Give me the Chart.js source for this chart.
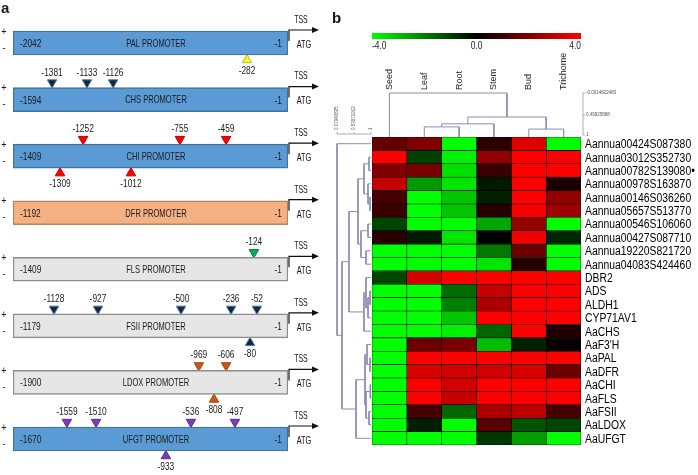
<!DOCTYPE html>
<html>
<head>
<meta charset="utf-8">
<script src="https://cdn.jsdelivr.net/npm/chart.js@4.4.0/dist/chart.umd.min.js"></script>
<style>
  html, body { margin: 0; padding: 0; background: #fff; }
  #wrap { position: relative; width: 698px; height: 475px; overflow: hidden; }
  canvas { position: absolute; top: 0; }
</style>
</head>
<body>
<div id="wrap">
  <canvas id="promoters" style="left:0" width="325" height="475"></canvas>
  <canvas id="heat" style="left:325px" width="373" height="475"></canvas>
  <canvas id="coltree" style="left:325px" width="373" height="140"></canvas>
  <canvas id="rowtree" style="left:325px" width="60" height="475"></canvas>
</div>
<script>
// ---- panel a: promoters ----
const promoters = ['PAL', 'CHS', 'CHI', 'DFR', 'FLS', 'FSII', 'LDOX', 'UFGT'];
const promoterStart = [-2042, -1594, -1409, -1192, -1409, -1179, -1900, -1670];

// cis elements: promoter, position label, strand, drawn place along the box (0..1, diagram not to scale)
const siteGene   = ['PAL', 'CHS', 'CHS', 'CHS', 'CHI', 'CHI', 'CHI', 'CHI', 'CHI', 'FLS',
                    'FSII', 'FSII', 'FSII', 'FSII', 'FSII', 'FSII', 'LDOX', 'LDOX', 'LDOX',
                    'UFGT', 'UFGT', 'UFGT', 'UFGT', 'UFGT'];
const sitePos    = [-282, -1381, -1133, -1126, -1252, -755, -459, -1309, -1012, -124,
                    -1128, -927, -500, -236, -52, -80, -969, -606, -808,
                    -1559, -1510, -536, -497, -933];
const siteStrand = ['-', '+', '+', '+', '+', '+', '+', '-', '-', '+',
                    '+', '+', '+', '+', '+', '-', '+', '+', '-',
                    '+', '+', '+', '+', '-'];
const siteDrawn  = [0.851, 0.142, 0.269, 0.364, 0.255, 0.607, 0.775, 0.171, 0.429, 0.876,
                    0.149, 0.309, 0.611, 0.793, 0.887, 0.862, 0.676, 0.775, 0.731,
                    0.196, 0.302, 0.647, 0.807, 0.556];

// ---- panel b: heatmap ----
const tissues = ['Seed', 'Leaf', 'Root', 'Stem', 'Bud', 'Trichome'];
const genes = ['Aannua00424S087380', 'Aannua03012S352730', 'Aannua00782S139080\u2022', 'Aannua00978S163870',
  'Aannua00146S036260', 'Aannua05657S513770', 'Aannua00546S106060', 'Aannua00427S087710',
  'Aannua19220S821720', 'Aannua04083S424460', 'DBR2', 'ADS', 'ALDH1', 'CYP71AV1', 'AaCHS',
  "AaF3'H", 'AaPAL', 'AaDFR', 'AaCHI', 'AaFLS', 'AaFSII', 'AaLDOX', 'AaUFGT'];
const seed     = [1.6, 4, 2.0, 3.1, 1.1, 0.9, -1.1, 0.6, -4, -4, -1.1, -4, -4, -4, -4, -4, -4, -4, -4, -4, -4, -4, -4];
const leaf     = [2.0, -1.0, 1.9, -2.4, -4, -4, -4, -0.4, -4, -4, 3.3, -4, -4, -4, -4, 1.7, 4, 3.4, 4, 4, 1.1, -0.5, -4];
const root     = [-4, -3.8, -3.5, -3.6, -3.1, -3.1, -4, -3.6, -4, -4, 4, -1.7, -2.0, -3.1, -3.8, 1.9, 4, 3.3, 3.3, 3.1, -1.6, -4, -4];
const stem     = [0.7, 2.3, 0.9, -0.4, -0.5, 0.6, -2.6, 0, -1.9, -3.6, 4, 3.1, 2.7, 4, -1.6, -3.0, 4, 3.3, 4, 4, 2.7, 1.4, -0.9];
const bud      = [3.5, 4, 4, 4, 4, 3.9, 2.3, 3.8, 1.7, 0.6, 4, 4, 4, 4, 4, -0.5, 4, 3.4, 4, 4, 3.0, -1.3, -2.5];
const trichome = [-4, 4, 4, 0.4, 2.3, 2.5, -4, -0.6, -4, -4, 4, 4, 4, 4, 0.5, 0.1, 4, 1.7, 4, 4, 1.1, -1.1, -4];
const colorTicks = [-4, 0, 4];

// dendrograms: merge (a, b) at distance; new nodes numbered after the leaves
const colMergeA = [1, 6, 4, 7, 0];
const colMergeB = [2, 3, 5, 8, 9];
const colMergeDist = [0.77, 0.70, 0.82, 0.545, -0.0015];
const colScaleTicks = [-0.0014822483, 0.49925888, 1.0];

const rowMergeA = [4, 3, 1, 25, 6, 8, 27, 26, 11, 31, 10, 33, 30, 16, 15, 18, 20, 38, 37, 41, 35, 0];
const rowMergeB = [5, 23, 2, 24, 7, 9, 28, 29, 12, 13, 32, 14, 34, 17, 36, 19, 21, 39, 40, 22, 42, 43];
const rowMergeDist = [0.973, 0.919, 0.946, 0.81, 0.919, 0.865, 0.729, 0.648, 0.973, 0.919, 0.865, 0.81,
                      0.404, 0.973, 0.892, 0.98, 0.946, 0.865, 0.838, 0.594, 0.215, 0.07943825];
const rowScaleTicks = [0.07943825, 0.53971912, 1.0];

// ---- styles ----
const FONT = "'Liberation Sans', Arial, sans-serif";
Chart.defaults.font.family = FONT;
const boxFill = { PAL: '#5B9BD5', CHS: '#5B9BD5', CHI: '#5B9BD5', UFGT: '#5B9BD5', DFR: '#F4B183', FLS: '#E7E6E6', FSII: '#E7E6E6', LDOX: '#E7E6E6' };
const boxLine = { PAL: '#41719C', CHS: '#41719C', CHI: '#41719C', UFGT: '#41719C', DFR: '#B9835C', FLS: '#8C8C8C', FSII: '#8C8C8C', LDOX: '#8C8C8C' };
const siteFill = { PAL: '#FFFF00', CHS: '#1A2433', CHI: '#FF0000', FLS: '#00B050', FSII: '#1A2433', LDOX: '#C55A11', UFGT: '#7A3DB8' };
const siteLine = { PAL: '#9BBB59', CHS: '#4A7EBB', CHI: '#C00000', FLS: '#00803A', FSII: '#4A7EBB', LDOX: '#A04A0E', UFGT: '#5E2D91' };
const TREE_COLOR = '#8C8CB4';
const STRAND_SHIFT = 0.3;

function heatColor(v) {
  const c = Math.round(255 * Math.min(1, Math.abs(v) / 4));
  return v >= 0 ? `rgb(${c},0,0)` : `rgb(0,${c},0)`;
}

// narrow text: draw squeezed horizontally (no condensed font installed)
function squeezed(ctx, text, x, y, align, size, sx) {
  ctx.save();
  ctx.translate(x, y);
  ctx.scale(sx, 1);
  ctx.font = size + 'px ' + FONT;
  ctx.textAlign = align;
  ctx.textBaseline = 'middle';
  ctx.fillText(text, 0, 0);
  ctx.restore();
}

// ---- panel a chart ----
const promoterText = {
  id: 'promoterText',
  afterDatasetsDraw(chart) {
    const { ctx, scales: { x, y } } = chart;
    ctx.save();
    ctx.fillStyle = '#1a1a1a';
    ctx.textBaseline = 'middle';
    ctx.font = 'bold 15px ' + FONT;
    ctx.textAlign = 'left';
    ctx.fillText('a', 1, 9);
    promoters.forEach((p, i) => {
      const cy = y.getPixelForValue(i);
      const left = x.getPixelForValue(0), right = x.getPixelForValue(1);
      const top = cy - 12;
      ctx.fillStyle = '#1a1a1a';
      squeezed(ctx, String(promoterStart[i]), left + 7, cy + 1, 'left', 11, 0.76);
      squeezed(ctx, p + ' PROMOTER', x.getPixelForValue(0.52), cy + 1, 'center', 10.5, 0.72);
      squeezed(ctx, '-1', right - 6, cy + 1, 'right', 11, 0.76);
      squeezed(ctx, '+', 4, cy - 11, 'center', 10, 0.9);
      squeezed(ctx, '-', 4, cy + 5, 'center', 10, 0.9);
      // TSS arrow
      const rx = right + 1, ay = top - 1;
      ctx.strokeStyle = '#111';
      ctx.lineWidth = 1.2;
      ctx.beginPath();
      ctx.moveTo(rx, cy - 2);
      ctx.lineTo(rx, ay);
      ctx.lineTo(rx + 25, ay);
      ctx.stroke();
      ctx.beginPath();
      ctx.moveTo(rx + 30, ay);
      ctx.lineTo(rx + 23, ay - 3);
      ctx.lineTo(rx + 23, ay + 3);
      ctx.closePath();
      ctx.fillStyle = '#111';
      ctx.fill();
      squeezed(ctx, 'TSS', rx + 12, ay - 10, 'center', 10.5, 0.66);
      squeezed(ctx, 'ATG', rx + 15, cy + 2, 'center', 10.5, 0.7);
    });
    // position labels next to the triangles
    ctx.fillStyle = '#1a1a1a';
    chart.getDatasetMeta(1).data.forEach((pt, k) => {
      const dy = siteStrand[k] === '+' ? -10 : 11;
      squeezed(ctx, String(sitePos[k]), pt.x, pt.y + dy, 'center', 11, 0.76);
    });
    ctx.restore();
  }
};

new Chart(document.getElementById('promoters'), {
  type: 'bar',
  data: {
    datasets: [{
      type: 'bar',
      indexAxis: 'y',
      data: promoters.map((p, i) => ({ x: [0, 1], y: i })),
      backgroundColor: promoters.map(p => boxFill[p]),
      borderColor: promoters.map(p => boxLine[p]),
      borderWidth: 1.5,
      borderSkipped: false,
      barThickness: 24,
      xAxisID: 'x', yAxisID: 'y'
    }, {
      type: 'scatter',
      data: siteGene.map((g, k) => ({
        x: siteDrawn[k],
        y: promoters.indexOf(g) + (siteStrand[k] === '+' ? -STRAND_SHIFT : STRAND_SHIFT)
      })),
      pointStyle: 'triangle',
      pointRadius: 5.5,
      pointRotation: siteStrand.map(s => s === '+' ? 180 : 0),
      pointBackgroundColor: siteGene.map(g => siteFill[g]),
      pointBorderColor: siteGene.map(g => siteLine[g]),
      pointBorderWidth: 1,
      clip: false,
      xAxisID: 'x', yAxisID: 'y'
    }]
  },
  options: {
    responsive: false,
    animation: false,
    layout: { padding: { left: 13, right: 37, top: 14.7, bottom: 7.7 } },
    scales: {
      x: { type: 'linear', min: 0, max: 1, offset: false, display: false },
      y: { type: 'linear', min: -0.5, max: 7.5, reverse: true, offset: false, display: false }
    },
    plugins: { legend: { display: false }, tooltip: { enabled: false } }
  },
  plugins: [promoterText]
});

// ---- panel b: heatmap chart ----
const columns = [seed, leaf, root, stem, bud, trichome];

const heatExtras = {
  id: 'heatExtras',
  afterDraw(chart) {
    const { ctx, chartArea: a, scales: { x, y } } = chart;
    ctx.save();
    ctx.fillStyle = '#111';
    ctx.textBaseline = 'middle';
    ctx.font = 'bold 15px ' + FONT;
    ctx.textAlign = 'left';
    ctx.fillText('b', 7, 19);
    // colour bar
    const grad = ctx.createLinearGradient(a.left, 0, a.right, 0);
    grad.addColorStop(0, heatColor(-4));
    grad.addColorStop(0.5, heatColor(0));
    grad.addColorStop(1, heatColor(4));
    ctx.fillStyle = grad;
    ctx.fillRect(a.left, 33, a.right - a.left, 6);
    ctx.fillStyle = '#222';
    colorTicks.forEach((t, i) => {
      const align = i === 0 ? 'left' : (i === colorTicks.length - 1 ? 'right' : 'center');
      const px = a.left + (t + 4) / 8 * (a.right - a.left);
      squeezed(ctx, t.toFixed(1), px, 46, align, 10.5, 0.8);
    });
    // tissue labels
    ctx.font = '9px ' + FONT;
    tissues.forEach((t, c) => {
      ctx.save();
      ctx.translate(x.getPixelForValue(c + 0.5), 90);
      ctx.rotate(-Math.PI / 2);
      ctx.textAlign = 'left';
      ctx.fillText(t, 0, 0);
      ctx.restore();
    });
    // gene labels
    ctx.fillStyle = '#000';
    genes.forEach((g, r) => {
      squeezed(ctx, g, a.right + 4, y.getPixelForValue(r) + 1, 'left', 12.5, 0.83);
    });
    ctx.restore();
  }
};

new Chart(document.getElementById('heat'), {
  type: 'bar',
  data: {
    labels: genes,
    datasets: columns.map((vals, c) => ({
      label: tissues[c],
      data: vals.map(() => [c, c + 1]),
      backgroundColor: vals.map(heatColor),
      borderColor: '#000',
      borderWidth: 0.6,
      borderSkipped: false,
      grouped: false,
      categoryPercentage: 1,
      barPercentage: 1
    }))
  },
  options: {
    indexAxis: 'y',
    responsive: false,
    animation: false,
    layout: { padding: { left: 47, right: 117, top: 137, bottom: 30 } },
    scales: {
      x: { type: 'linear', min: 0, max: 6, offset: false, display: false },
      y: { type: 'category', display: false }
    },
    plugins: { legend: { display: false }, tooltip: { enabled: false } }
  },
  plugins: [heatExtras]
});

// ---- dendrograms ----
function treeSets(nLeaves, leafOffset, mA, mB, mD, sideways) {
  const pos = [], hgt = [];
  for (let i = 0; i < nLeaves; i++) { pos.push(i + leafOffset); hgt.push(1.0); }
  return mA.map((a, k) => {
    const b = mB[k], d = mD[k];
    const pts = [[pos[a], hgt[a]], [pos[a], d], [pos[b], d], [pos[b], hgt[b]]];
    pos.push((pos[a] + pos[b]) / 2);
    hgt.push(d);
    return {
      data: pts.map(([p, h]) => sideways ? { x: h, y: p } : { x: p, y: h }),
      showLine: true,
      pointRadius: 0,
      borderColor: TREE_COLOR,
      borderWidth: 1,
      clip: false
    };
  });
}

const colScale = {
  id: 'colScale',
  afterDraw(chart) {
    const { ctx, chartArea: a, scales: { y } } = chart;
    const sx = a.right + 2;
    ctx.save();
    ctx.strokeStyle = '#999';
    ctx.lineWidth = 0.8;
    ctx.beginPath();
    ctx.moveTo(sx, y.getPixelForValue(colScaleTicks[0]));
    ctx.lineTo(sx, y.getPixelForValue(1.0) - 2);
    colScaleTicks.forEach(t => {
      const py = y.getPixelForValue(t) - (t === 1 ? 2 : 0);
      ctx.moveTo(sx, py);
      ctx.lineTo(sx + 2, py);
    });
    ctx.stroke();
    ctx.fillStyle = '#555';
    ctx.font = '4.5px ' + FONT;
    ctx.textBaseline = 'middle';
    ctx.textAlign = 'left';
    colScaleTicks.forEach(t => {
      const py = y.getPixelForValue(t) - (t === 1 ? 2 : 0);
      ctx.fillText(String(t), sx + 3, py);
    });
    ctx.restore();
  }
};

new Chart(document.getElementById('coltree'), {
  type: 'scatter',
  data: { datasets: treeSets(tissues.length, 0.5, colMergeA, colMergeB, colMergeDist, false) },
  options: {
    responsive: false,
    animation: false,
    layout: { padding: { left: 47, right: 117, top: 93, bottom: 3 } },
    scales: {
      x: { type: 'linear', min: 0, max: 6, display: false },
      y: { type: 'linear', min: -0.0015, max: 1.0, reverse: true, display: false }
    },
    plugins: { legend: { display: false }, tooltip: { enabled: false } }
  },
  plugins: [colScale]
});

const rowScale = {
  id: 'rowScale',
  afterDraw(chart) {
    const { ctx, chartArea: a, scales: { x } } = chart;
    const sy = a.top - 3;
    ctx.save();
    ctx.strokeStyle = '#999';
    ctx.lineWidth = 0.8;
    ctx.beginPath();
    ctx.moveTo(x.getPixelForValue(rowScaleTicks[0]), sy);
    ctx.lineTo(x.getPixelForValue(1.0), sy);
    rowScaleTicks.forEach(t => {
      ctx.moveTo(x.getPixelForValue(t), sy);
      ctx.lineTo(x.getPixelForValue(t), sy - 2);
    });
    ctx.stroke();
    ctx.fillStyle = '#555';
    ctx.font = '4.5px ' + FONT;
    ctx.textBaseline = 'middle';
    rowScaleTicks.forEach(t => {
      ctx.save();
      ctx.translate(x.getPixelForValue(t), sy - 4);
      ctx.rotate(-Math.PI / 2);
      ctx.textAlign = 'left';
      ctx.fillText(String(t), 0, 0);
      ctx.restore();
    });
    ctx.restore();
  }
};

new Chart(document.getElementById('rowtree'), {
  type: 'scatter',
  data: { datasets: treeSets(genes.length, 0, rowMergeA, rowMergeB, rowMergeDist, true) },
  options: {
    responsive: false,
    animation: false,
    layout: { padding: { left: 12, right: 14, top: 137, bottom: 30 } },
    scales: {
      x: { type: 'linear', min: 0.07943825, max: 1.0, display: false },
      y: { type: 'linear', min: -0.5, max: 22.5, reverse: true, display: false }
    },
    plugins: { legend: { display: false }, tooltip: { enabled: false } }
  },
  plugins: [rowScale]
});
</script>
</body>
</html>
